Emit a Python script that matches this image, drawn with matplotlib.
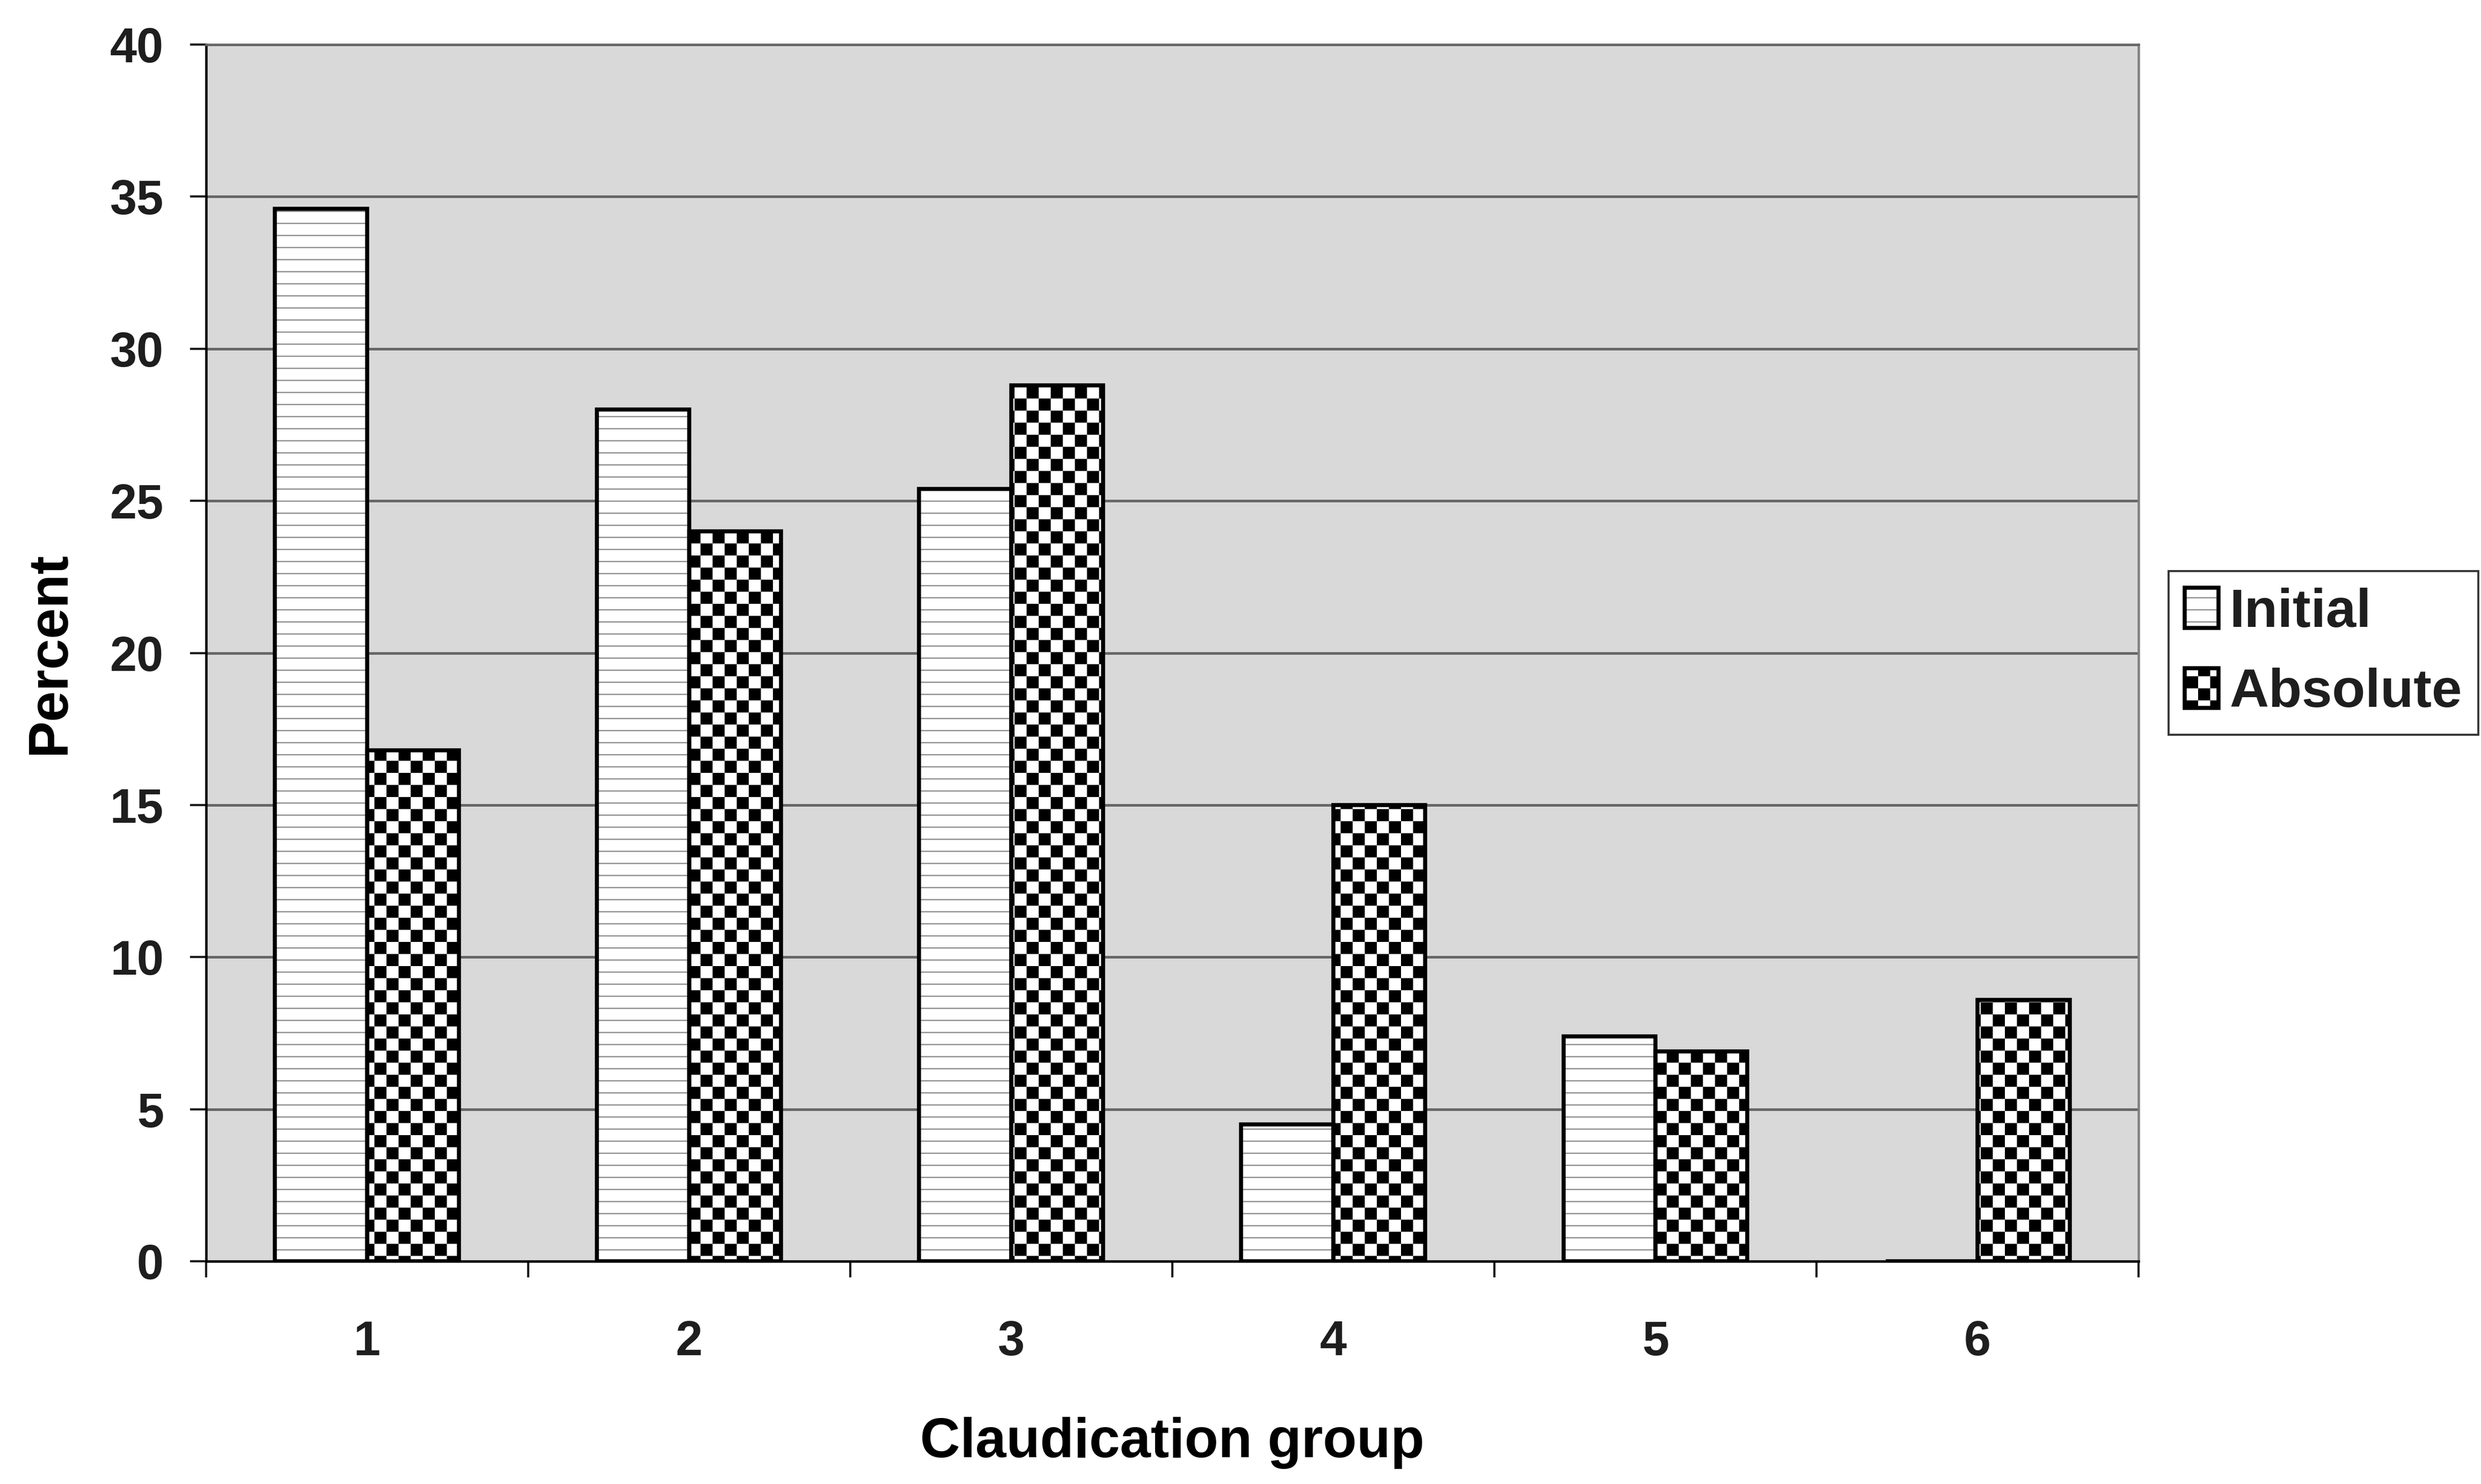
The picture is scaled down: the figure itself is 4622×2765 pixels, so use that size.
import warnings
import numpy as np
import matplotlib
matplotlib.use('Agg')
import matplotlib.pyplot as plt
import matplotlib.hatch as mhatch
from matplotlib.path import Path
from matplotlib.ticker import FixedLocator
from matplotlib.legend_handler import HandlerTuple

warnings.filterwarnings('ignore', category=matplotlib.MatplotlibDeprecationWarning)

plt.rcParams['font.family'] = ['Liberation Sans', 'DejaVu Sans']
plt.rcParams['font.weight'] = 'bold'
plt.rcParams['axes.labelweight'] = 'bold'
plt.rcParams['text.color'] = '#1e1e1e'
plt.rcParams['xtick.color'] = '#1e1e1e'
plt.rcParams['ytick.color'] = '#1e1e1e'
plt.rcParams['hatch.linewidth'] = 0.6

# data
groups = ['1', '2', '3', '4', '5', '6']
initial = [34.6, 28.0, 25.4, 4.5, 7.4, 0.0]
absolute = [16.8, 24.0, 28.8, 15.0, 6.9, 8.6]
series_names = ['Initial', 'Absolute']

DPI = 270


class CheckerHatch(mhatch.HatchPatternBase):
    # 'c' in a hatch string -> filled checkerboard, 12 squares per hatch tile
    def __init__(self, hatch, density):
        self.n = hatch.count('c') * 12
        self.num_vertices = self.n * self.n // 2 * 5

    def set_vertices_and_codes(self, vertices, codes):
        n = self.n
        s = 1.0 / n
        inset = plt.rcParams['hatch.linewidth'] / 72 / 2
        sq = np.array([[inset, inset], [s - inset, inset], [s - inset, s - inset],
                       [inset, s - inset], [inset, inset]])
        parts = [sq + [j * s, i * s] for i in range(n) for j in range(n) if (i + j) % 2 == 0]
        vertices[:] = np.concatenate(parts)
        codes[:] = np.tile([Path.MOVETO, Path.LINETO, Path.LINETO, Path.LINETO, Path.CLOSEPOLY],
                           len(parts))


mhatch._hatch_types.append(CheckerHatch)

x = np.arange(1, len(groups) + 1)
w = 0.2857

fig, ax = plt.subplots(figsize=(4622 / DPI, 2765 / DPI), dpi=DPI)
fig.subplots_adjust(left=0.083, right=0.862, top=0.970, bottom=0.150)
ax.set_facecolor('#d9d9d9')
ax.set_axisbelow(True)

# hatched fill and black outline drawn as separate layers
b1 = ax.bar(x - w / 2, initial, w, color='white', edgecolor='#8c8c8c', linewidth=0, hatch='--', zorder=2)
b1e = ax.bar(x - w / 2, initial, w, fill=False, edgecolor='black', linewidth=2.0, zorder=3)
b2 = ax.bar(x + w / 2, absolute, w, color='white', edgecolor='black', linewidth=0, hatch='c', zorder=2)
b2e = ax.bar(x + w / 2, absolute, w, fill=False, edgecolor='black', linewidth=2.0, zorder=3)

ax.set_xlim(0.5, 6.5)
ax.set_ylim(0, 40)
ax.set_yticks(range(0, 45, 5))
ax.set_xticks(x)
ax.set_xticklabels(groups)
ax.xaxis.set_minor_locator(FixedLocator(np.arange(0.5, 7, 1)))
ax.yaxis.grid(True, color='#666666', linewidth=1.3)

ax.tick_params(axis='x', which='major', length=0, pad=29, labelsize=24)
ax.tick_params(axis='x', which='minor', length=8, width=1.1, direction='out')
ax.tick_params(axis='y', length=8, width=1.1, pad=13, labelsize=24)

ax.spines['left'].set_color('black')
ax.spines['bottom'].set_color('black')
ax.spines['right'].set_color('#808080')
ax.spines['top'].set_color('#666666')
for s in ax.spines.values():
    s.set_linewidth(1.2)

ax.set_xlabel('Claudication group', fontsize=27.5)
ax.xaxis.set_label_coords(0.5, -0.128)
ax.set_ylabel('Percent', fontsize=27.5)
ax.yaxis.set_label_coords(-0.067, 0.5)

leg = fig.legend([(b1[0], b1e[0]), (b2[0], b2e[0])], series_names,
                 loc='center left', bbox_to_anchor=(0.874, 0.560),
                 handler_map={tuple: HandlerTuple(ndivide=1, pad=0)},
                 frameon=True, fancybox=False, edgecolor='black', fontsize=27,
                 handlelength=0.62, handleheight=0.75, handletextpad=0.2,
                 borderpad=0.3, labelspacing=0.55, borderaxespad=0)
leg.get_frame().set_linewidth(1.0)

fig.savefig('out.png', dpi=DPI, facecolor='white')
